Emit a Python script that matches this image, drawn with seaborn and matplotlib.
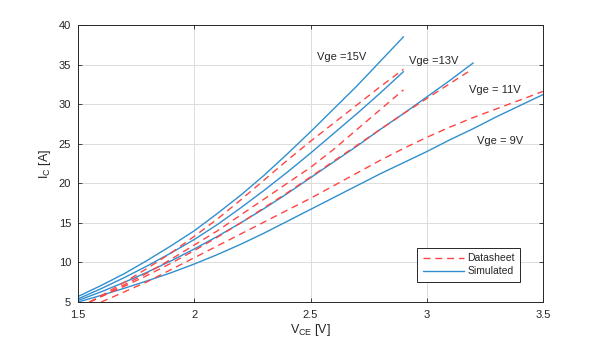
import numpy as np
import pandas as pd
import seaborn as sns
import matplotlib
matplotlib.use("Agg")
import matplotlib.pyplot as plt
from matplotlib.lines import Line2D

# ---- data ----
vce_a = [1.5, 1.6, 1.7, 1.8, 1.9, 2.0, 2.1, 2.2, 2.3, 2.4, 2.5, 2.6, 2.7, 2.8, 2.9]
sim_15 = [5.7, 7.1, 8.6, 10.3, 12.1, 14.0, 16.2, 18.5, 21.0, 23.7, 26.5, 29.4, 32.3, 35.4, 38.5]
sim_13 = [5.4, 6.7, 8.1, 9.6, 11.2, 12.9, 14.8, 16.9, 19.1, 21.4, 23.8, 26.3, 28.8, 31.4, 34.1]

vce_b = [1.55, 1.6, 1.7, 1.8, 1.9, 2.0, 2.1, 2.2, 2.3, 2.4, 2.5, 2.6, 2.7, 2.8, 2.9]
ds_15 = [5.0, 5.8, 7.5, 9.3, 11.2, 13.3, 15.5, 17.9, 20.4, 22.9, 25.3, 27.6, 29.9, 32.2, 34.4]
ds_13 = [5.0, 5.7, 7.2, 8.7, 10.4, 12.2, 14.0, 16.0, 18.0, 20.0, 22.0, 24.3, 26.8, 29.3, 31.8]

vce_c = [1.5, 1.6, 1.7, 1.8, 1.9, 2.0, 2.1, 2.2, 2.3, 2.4, 2.5, 2.6, 2.7, 2.8, 2.9, 3.0, 3.1, 3.2]
sim_11 = [5.2, 6.3, 7.5, 8.8, 10.2, 11.7, 13.3, 15.0, 16.8, 18.7, 20.7, 22.7, 24.7, 26.8, 28.8, 30.9, 33.0, 35.2]

vce_d = [1.55, 1.6, 1.7, 1.8, 1.9, 2.0, 2.1, 2.2, 2.3, 2.4, 2.5, 2.6, 2.7, 2.8, 2.9, 3.0, 3.1, 3.19]
ds_11 = [5.0, 5.7, 7.0, 8.4, 9.9, 11.5, 13.2, 15.0, 16.9, 18.8, 20.8, 22.8, 24.8, 26.8, 28.8, 30.7, 32.6, 34.3]

vce_e = [1.5, 1.6, 1.7, 1.8, 1.9, 2.0, 2.1, 2.2, 2.3, 2.4, 2.5, 2.6, 2.7, 2.8, 2.9, 3.0, 3.1, 3.2, 3.3, 3.4, 3.5]
sim_9 = [5.0, 5.85, 6.75, 7.7, 8.7, 9.8, 11.0, 12.3, 13.7, 15.2, 16.7, 18.2, 19.7, 21.2, 22.6, 24.0, 25.5, 26.9, 28.4, 29.8, 31.2]

vce_f = [1.6, 1.7, 1.8, 1.9, 2.0, 2.1, 2.2, 2.3, 2.4, 2.5, 2.6, 2.7, 2.8, 2.9, 3.0, 3.1, 3.2, 3.3, 3.4, 3.5]
ds_9 = [5.0, 6.3, 7.6, 9.1, 10.6, 12.1, 13.6, 15.1, 16.6, 18.1, 19.7, 21.3, 22.9, 24.4, 25.8, 27.1, 28.3, 29.4, 30.5, 31.6]

labels = ["Vge =15V", "Vge =13V", "Vge = 11V", "Vge = 9V"]
label_x = [2.53, 2.925, 3.18, 3.215]
label_y = [36.0, 35.5, 31.8, 25.3]

x_ticks = [1.5, 2, 2.5, 3, 3.5]
x_ticklabels = ["1.5", "2", "2.5", "3", "3.5"]
y_ticks = [5, 10, 15, 20, 25, 30, 35, 40]

sns.set_theme(style="white")
plt.rcParams['font.family'] = ['Liberation Sans', 'DejaVu Sans']

fig = plt.figure(figsize=(6.0, 3.46), dpi=100)
ax = fig.add_axes([0.13, 0.127, 0.775, 0.801])

RED = "#ff4444"
BLUE = "#2f8fd0"

sims = [(vce_a, sim_15), (vce_a, sim_13), (vce_c, sim_11), (vce_e, sim_9)]
dss = [(vce_b, ds_15), (vce_b, ds_13), (vce_d, ds_11), (vce_f, ds_9)]

for xs, ys in sims:
    sns.lineplot(x=xs, y=ys, ax=ax, color=BLUE, lw=1.0, sort=False, estimator=None)
for xs, ys in dss:
    sns.lineplot(x=xs, y=ys, ax=ax, color=RED, lw=1.0, sort=False, estimator=None)
    ax.lines[-1].set_dashes([5, 3.5])

for t, tx, ty in zip(labels, label_x, label_y):
    ax.text(tx, ty, t, fontsize=8, color="#262626", va="center", ha="left")

ax.set_xlim(1.5, 3.5)
ax.set_ylim(5, 40)
ax.set_xticks(x_ticks)
ax.set_xticklabels(x_ticklabels)
ax.set_yticks(y_ticks)
ax.grid(True, color="#dcdcdc", lw=0.7)
ax.set_axisbelow(True)
ax.tick_params(direction="in", length=3, width=0.6, labelsize=8, colors="#262626",
               top=True, right=True, bottom=True, left=True)
ax.tick_params(axis="x", pad=6)
ax.tick_params(axis="y", pad=5)
for s in ax.spines.values():
    s.set_color("#262626")
    s.set_linewidth(0.7)

ax.set_xlabel(r"V$_{\mathregular{CE}}$ [V]", fontsize=9, color="#262626", labelpad=1)
ax.set_ylabel(r"I$_{\mathregular{C}}$ [A]", fontsize=9, color="#262626", labelpad=4)

handles = [Line2D([], [], color=RED, lw=1.0, dashes=[5, 3.5]),
           Line2D([], [], color=BLUE, lw=1.0)]
leg = ax.legend(handles, ["Datasheet", "Simulated"], loc="lower right",
                bbox_to_anchor=(0.962, 0.055), fontsize=7.5, frameon=True,
                fancybox=False, edgecolor="#262626", framealpha=1,
                handlelength=4, borderpad=0.5, labelspacing=0.3, handletextpad=0.3)
leg.get_frame().set_linewidth(0.7)

fig.savefig("out.png", dpi=100)
